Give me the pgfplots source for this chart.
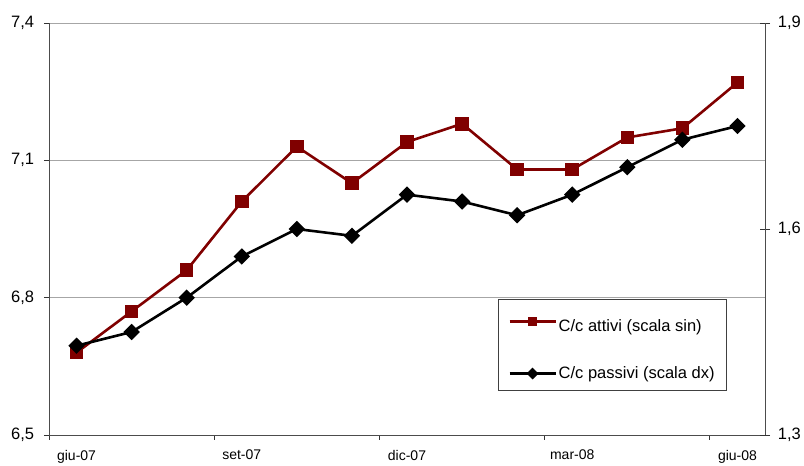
\documentclass[border=0pt]{standalone}
\usepackage{fontspec}
\setmainfont{Liberation Sans}
\usepackage{pgfplots}
\pgfplotsset{compat=1.18}
\definecolor{darkred}{RGB}{128,0,0}
\begin{document}
\fontsize{14pt}{16pt}\selectfont
\begin{tikzpicture}
\pgfplotsset{
  every axis/.append style={
    scale only axis, width=716pt, height=412pt,
    xmin=-0.5, xmax=12.5,
    /pgf/number format/assume math mode=true,
    /pgf/number format/use comma,
    /pgf/number format/fixed,
    /pgf/number format/fixed zerofill,
    /pgf/number format/precision=1,
    x tick label style={font=\fontsize{14pt}{16pt}\selectfont},
    y tick label style={font=\fontsize{16.5pt}{18pt}\selectfont},
    axis line style={-, black!70, line width=0.9pt},
    major tick style={black!80, line width=0.9pt},
  }
}
\begin{axis}[
  name=ax,
  ymin=6.5, ymax=7.4,
  axis x line*=bottom, axis y line*=left,
  ytick={6.5,6.8,7.1,7.4},
  y tick label style={xshift=-5pt},
  ymajorgrids, grid style={black!35, line width=0.8pt},
  xtick={-0.5,2.5,5.5,8.5,11.5}, xticklabels={},
  extra x ticks={0,3,6,9,12},
  extra x tick labels={giu-07,set-07,dic-07,mar-08,giu-08},
  extra x tick style={major tick length=0pt, grid=none, tick label style={yshift=-10pt}},
  tick align=outside, major tick length=5pt,
  clip=false,
]
\addplot[darkred, line width=2.6pt, mark=square*, mark size=5.5pt, mark options={solid}]
  coordinates {(0,6.68) (1,6.77) (2,6.86) (3,7.01) (4,7.13) (5,7.05) (6,7.14)
               (7,7.18) (8,7.08) (9,7.08) (10,7.15) (11,7.17) (12,7.27)};
\end{axis}
\begin{axis}[
  ymin=1.3, ymax=1.9,
  axis y line*=right, axis x line=none,
  ytick={1.3,1.6,1.9},
  y tick label style={xshift=3pt},
  tick align=center, major tick length=10pt,
  clip=false,
  legend style={at={(0.627,0.33)}, anchor=north west,
    draw=black!75, line width=0.8pt, fill=white,
    font=\fontsize{16.5pt}{18pt}\selectfont,
    inner xsep=10pt, inner ysep=8pt, row sep=29pt},
  legend cell align=left,
  legend image code/.code={
    \draw[#1, mark repeat=2, mark phase=2]
      plot coordinates {(0pt,0pt) (23pt,0pt) (46pt,0pt)};},
]
\addlegendimage{darkred, line width=2.4pt, mark=square*, mark size=3.6pt, mark options={solid}}
\addlegendentry{\rule{0pt}{22pt}C/c attivi (scala sin)\hspace{15pt}}
\addlegendimage{black, line width=2.4pt, mark=square*, mark size=3pt, mark options={solid, rotate=45}}
\addlegendentry{C/c passivi (scala dx)\hspace{15pt}}
\addplot[black, line width=2.6pt, mark=square*, mark size=4.5pt, mark options={solid, rotate=45}, forget plot]
  coordinates {(0,1.43) (1,1.45) (2,1.50) (3,1.56) (4,1.60) (5,1.59) (6,1.65)
               (7,1.64) (8,1.62) (9,1.65) (10,1.69) (11,1.73) (12,1.75)};
\end{axis}
\pgfresetboundingbox
\path ([shift={(-49pt,-31pt)}]ax.south west) rectangle ([shift={(39pt,23pt)}]ax.north east);
\end{tikzpicture}
\end{document}
